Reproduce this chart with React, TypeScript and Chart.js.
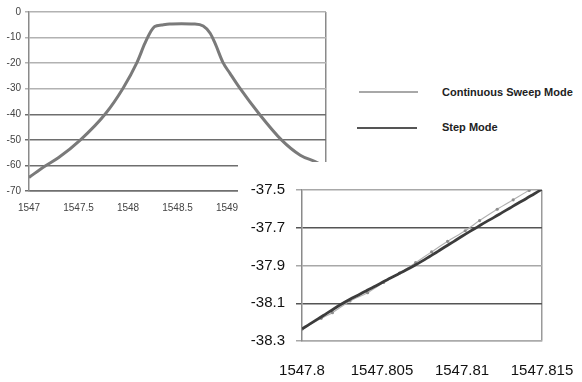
import { useEffect, useRef } from 'react';
import { Chart, registerables } from 'chart.js';

Chart.register(...registerables);

// ---------- data ----------
const SERIES_LABELS = ['Continuous Sweep Mode', 'Step Mode'];

// main spectrum (wavelength nm, power dB)
const TOP_X = [1547.0, 1547.16, 1547.3, 1547.52, 1547.77, 1547.95, 1548.09, 1548.17, 1548.22, 1548.27, 1548.34, 1548.42, 1548.54, 1548.66, 1548.76, 1548.83, 1548.88, 1548.96, 1549.03, 1549.13, 1549.32, 1549.55, 1549.74, 1549.89, 1550.0];
const TOP_Y = [-64.7, -60.3, -56.9, -50, -39.9, -29.8, -19.8, -12.3, -8.3, -5.7, -5.1, -4.7, -4.6, -4.7, -5.5, -8.3, -12.3, -19.8, -24, -29.8, -39.6, -50, -56, -58.5, -60.5];
const TOP_X_TICKS = [1547, 1547.5, 1548, 1548.5, 1549, 1549.5, 1550];
const TOP_Y_TICKS = [-70, -60, -50, -40, -30, -20, -10, 0];

// zoomed inset
const CONT_X = [1547.8, 1547.8012, 1547.8019, 1547.803, 1547.8041, 1547.8051, 1547.8061, 1547.8071, 1547.8081, 1547.8091, 1547.8102, 1547.8111, 1547.8122, 1547.8132, 1547.8142, 1547.815];
const CONT_Y = [-38.238, -38.18, -38.15, -38.088, -38.044, -37.99, -37.94, -37.885, -37.828, -37.772, -37.716, -37.662, -37.602, -37.552, -37.502, -37.47];
const STEP_X = [1547.8, 1547.8005, 1547.801, 1547.8015, 1547.802, 1547.8025, 1547.803, 1547.8035, 1547.804, 1547.8045, 1547.805, 1547.8055, 1547.806, 1547.8065, 1547.807, 1547.8075, 1547.808, 1547.8085, 1547.809, 1547.8095, 1547.81, 1547.8105, 1547.811, 1547.8115, 1547.812, 1547.8125, 1547.813, 1547.8135, 1547.814, 1547.8145, 1547.815];
const STEP_Y = [-38.236, -38.209, -38.183, -38.156, -38.129, -38.103, -38.079, -38.057, -38.035, -38.013, -37.99, -37.968, -37.946, -37.924, -37.901, -37.877, -37.851, -37.825, -37.798, -37.772, -37.745, -37.719, -37.694, -37.669, -37.645, -37.62, -37.595, -37.57, -37.546, -37.521, -37.496];
const INSET_X_TICKS = [1547.8, 1547.805, 1547.81, 1547.815];
const INSET_Y_TICKS = [-38.3, -38.1, -37.9, -37.7, -37.5];

const FONT = "'Liberation Sans', Arial, sans-serif";

const pts = (xs: number[], ys: number[]) => xs.map((x, i) => ({ x, y: ys[i] }));
const near = (a: number, b: number) => Math.abs(a - b) < 1e-6;

export default function App() {
  const topRef = useRef<HTMLCanvasElement>(null);
  const insetRef = useRef<HTMLCanvasElement>(null);

  useEffect(() => {
    const top = new Chart(topRef.current!, {
      type: 'line',
      data: {
        datasets: [
          {
            label: SERIES_LABELS[1],
            data: pts(TOP_X, TOP_Y),
            borderColor: '#7a7a7a',
            borderWidth: 3,
            pointRadius: 0,
            cubicInterpolationMode: 'monotone',
            fill: false,
          },
        ],
      },
      options: {
        responsive: false,
        animation: false,
        layout: { padding: { top: 12, right: 14, left: 0, bottom: 0 } },
        plugins: { legend: { display: false }, tooltip: { enabled: false } },
        scales: {
          x: {
            type: 'linear',
            min: 1547,
            max: 1550,
            afterBuildTicks: (s: any) => {
              s.ticks = TOP_X_TICKS.map((v) => ({ value: v }));
            },
            afterFit: (s: any) => {
              s.height = 34;
              s.paddingLeft = 0;
              s.paddingRight = 0;
            },
            grid: {
              drawTicks: false,
              lineWidth: 1.5,
              color: (c: any) => (c.tick && near(c.tick.value, 1550) ? '#8a8a8a' : 'rgba(0,0,0,0)'),
            },
            border: { display: true, color: '#707070', width: 1.5 },
            ticks: {
              padding: 11,
              maxRotation: 0,
              autoSkip: false,
              color: '#444',
              font: { family: FONT, size: 10 },
              callback: (v: any) => String(v),
            },
          },
          y: {
            type: 'linear',
            min: -70,
            max: 0,
            afterBuildTicks: (s: any) => {
              s.ticks = TOP_Y_TICKS.map((v) => ({ value: v }));
            },
            afterFit: (s: any) => {
              s.width = 29;
            },
            grid: {
              drawTicks: true,
              tickLength: 4,
              lineWidth: 1.5,
              color: (c: any) => (c.tick && c.tick.value <= -40 ? '#6e6e6e' : '#b2b2b2'),
            },
            border: { display: true, color: '#8a8a8a', width: 1.5 },
            ticks: {
              padding: 4,
              color: '#444',
              font: { family: FONT, size: 10 },
              callback: (v: any) => String(v),
            },
          },
        },
      },
    });

    const inset = new Chart(insetRef.current!, {
      type: 'line',
      data: {
        datasets: [
          {
            label: SERIES_LABELS[1],
            data: pts(STEP_X, STEP_Y),
            borderColor: '#3c3c3c',
            borderWidth: 2.8,
            pointRadius: 0,
            cubicInterpolationMode: 'monotone',
            fill: false,
          },
          {
            label: SERIES_LABELS[0],
            data: pts(CONT_X, CONT_Y),
            borderColor: '#b0b0b0',
            borderWidth: 1.1,
            pointRadius: 1.6,
            pointBorderWidth: 0,
            pointBackgroundColor: '#8e8e8e',
            tension: 0.3,
            fill: false,
          },
        ],
      },
      options: {
        responsive: false,
        animation: false,
        layout: { padding: { top: 28, right: 40, left: 0, bottom: 0 } },
        plugins: { legend: { display: false }, tooltip: { enabled: false } },
        scales: {
          x: {
            type: 'linear',
            min: 1547.8,
            max: 1547.815,
            afterBuildTicks: (s: any) => {
              s.ticks = INSET_X_TICKS.map((v) => ({ value: v }));
            },
            afterFit: (s: any) => {
              s.height = 41;
              s.paddingLeft = 0;
              s.paddingRight = 0;
            },
            grid: {
              drawTicks: false,
              lineWidth: 1.5,
              color: (c: any) => (c.tick && near(c.tick.value, 1547.815) ? '#9a9a9a' : 'rgba(0,0,0,0)'),
            },
            border: { display: true, color: '#ababab', width: 1.5 },
            ticks: {
              padding: 21,
              maxRotation: 0,
              autoSkip: false,
              color: '#111',
              font: { family: FONT, size: 15 },
              callback: (v: any) => String(v),
            },
          },
          y: {
            type: 'linear',
            min: -38.3,
            max: -37.5,
            afterBuildTicks: (s: any) => {
              s.ticks = INSET_Y_TICKS.map((v) => ({ value: v }));
            },
            afterFit: (s: any) => {
              s.width = 64;
            },
            grid: {
              drawTicks: true,
              tickLength: 6,
              lineWidth: 1.5,
              color: (c: any) =>
                c.tick && (near(c.tick.value, -37.7) || near(c.tick.value, -38.1)) ? '#555555' : '#a8a8a8',
            },
            border: { display: true, color: '#8a8a8a', width: 1.5 },
            ticks: {
              padding: 11,
              color: '#111',
              font: { family: FONT, size: 15 },
              callback: (v: any) => Number(v).toFixed(1),
            },
          },
        },
      },
    });

    return () => {
      top.destroy();
      inset.destroy();
    };
  }, []);

  const legendText: any = {
    position: 'absolute',
    left: 442,
    fontFamily: "'Liberation Sans', Arial, sans-serif",
    fontWeight: 'bold',
    fontSize: 11,
    lineHeight: '12px',
    color: '#222',
    whiteSpace: 'nowrap',
  };

  return (
    <div style={{ position: 'fixed', left: 0, top: 0, width: 582, height: 382, background: '#fff', overflow: 'hidden' }}>
      <canvas ref={topRef} width={340} height={225} style={{ position: 'absolute', left: 0, top: 0, width: 340, height: 225 }} />
      <div style={{ position: 'absolute', left: 359, top: 91, width: 59, height: 1.5, background: '#a8a8a8' }} />
      <div style={{ ...legendText, top: 86 }}>{SERIES_LABELS[0]}</div>
      <div style={{ position: 'absolute', left: 357, top: 126.5, width: 60, height: 2, background: '#555' }} />
      <div style={{ ...legendText, top: 121 }}>{SERIES_LABELS[1]}</div>
      <div style={{ position: 'absolute', left: 238, top: 162, width: 344, height: 220, background: '#fff' }}>
        <canvas ref={insetRef} width={344} height={220} style={{ width: 344, height: 220, display: 'block' }} />
      </div>
    </div>
  );
}
